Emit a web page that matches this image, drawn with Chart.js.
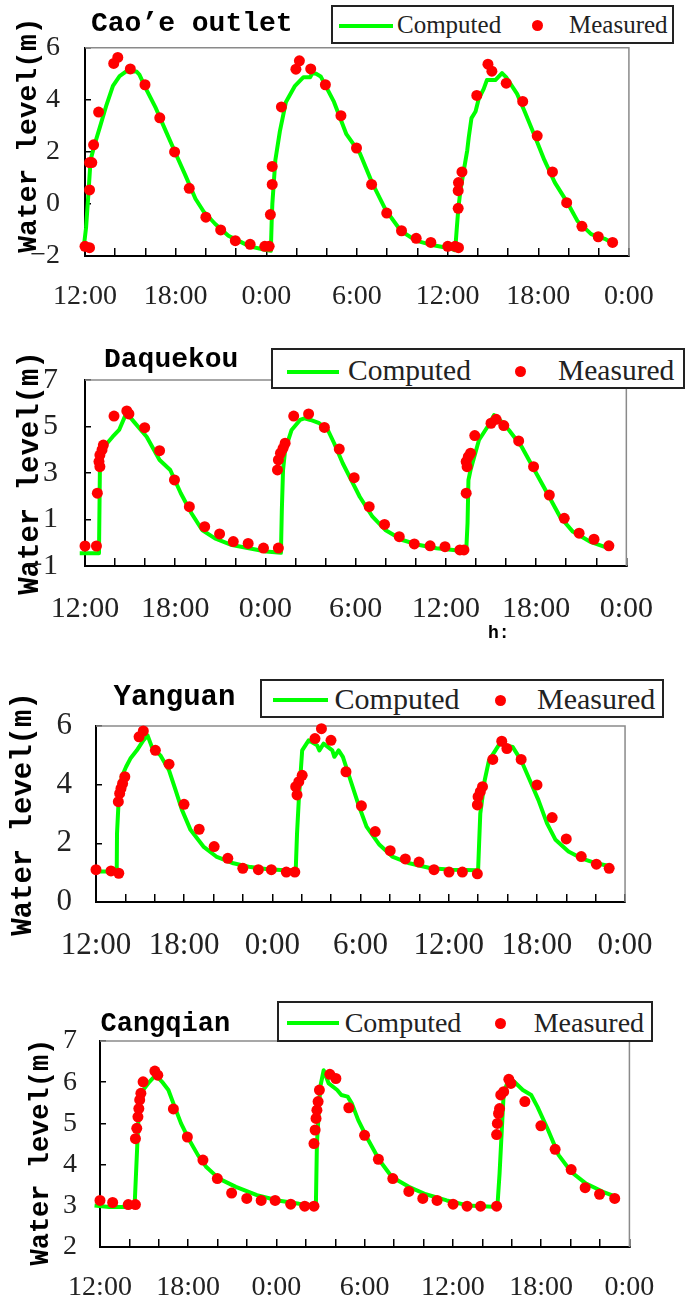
<!DOCTYPE html>
<html><head><meta charset="utf-8">
<script src="https://cdn.jsdelivr.net/npm/chart.js@4.4.1/dist/chart.umd.min.js"></script>
<style>
html,body{margin:0;padding:0;background:#fff;}
body{width:686px;height:1302px;position:relative;overflow:hidden;}
canvas{position:absolute;left:0;}
.t{position:absolute;white-space:nowrap;line-height:1;}
.ttl{font-family:"Liberation Mono",monospace;font-weight:bold;color:#000;}
.leg{position:absolute;border:2px solid #222;box-sizing:border-box;background:#fff;}
.sw{position:absolute;height:4px;background:#00ff00;}
.dot{position:absolute;border-radius:50%;background:#ff0000;}
.lt{font-family:"Liberation Serif",serif;color:#222;}
</style></head>
<body>
<canvas id="c1" width="686" height="325" style="top:0px;width:686px;height:325px"></canvas>
<canvas id="c2" width="686" height="330" style="top:325px;width:686px;height:330px"></canvas>
<canvas id="c3" width="686" height="330" style="top:655px;width:686px;height:330px"></canvas>
<canvas id="c4" width="686" height="317" style="top:985px;width:686px;height:317px"></canvas>

<!-- Panel 1 overlays -->
<div class="t ttl" style="left:91px;top:9.6px;font-size:28px">Cao’e outlet</div>
<div class="leg" style="left:331px;top:5px;width:343px;height:39px"></div>
<div class="sw" style="left:339px;top:23.5px;width:54px"></div>
<div class="t lt" style="left:397px;top:12.3px;font-size:25px">Computed</div>
<div class="dot" style="left:531.5px;top:19.5px;width:11px;height:11px"></div>
<div class="t lt" style="left:569px;top:12.3px;font-size:25px">Measured</div>

<!-- Panel 2 overlays -->
<div class="t ttl" style="left:104px;top:346.3px;font-size:28px">Daquekou</div>
<div class="leg" style="left:271px;top:348px;width:414px;height:41px"></div>
<div class="sw" style="left:286.5px;top:369.7px;width:52.5px"></div>
<div class="t lt" style="left:348px;top:355.5px;font-size:29.5px">Computed</div>
<div class="dot" style="left:515.1px;top:365.5px;width:11px;height:11px"></div>
<div class="t lt" style="left:558px;top:355.5px;font-size:29.5px">Measured</div>
<div class="t ttl" style="left:488px;top:624px;font-size:18px">h:</div>

<!-- Panel 3 overlays -->
<div class="t ttl" style="left:113.6px;top:682.8px;font-size:29px">Yanguan</div>
<div class="leg" style="left:260px;top:679px;width:404px;height:39px"></div>
<div class="sw" style="left:273.4px;top:698px;width:54.6px"></div>
<div class="t lt" style="left:334.6px;top:683.8px;font-size:30px">Computed</div>
<div class="dot" style="left:495.4px;top:694.5px;width:11px;height:11px"></div>
<div class="t lt" style="left:537px;top:683.8px;font-size:30px">Measured</div>

<!-- Panel 4 overlays -->
<div class="t ttl" style="left:100.5px;top:1011px;font-size:27px">Cangqian</div>
<div class="leg" style="left:277px;top:1001px;width:376px;height:41px"></div>
<div class="sw" style="left:286.5px;top:1021.3px;width:52.5px"></div>
<div class="t lt" style="left:344.7px;top:1008.8px;font-size:28px">Computed</div>
<div class="dot" style="left:495.4px;top:1017.8px;width:11px;height:11px"></div>
<div class="t lt" style="left:533.7px;top:1008.8px;font-size:28px">Measured</div>

<script>
// ---- Data (time in hours after 12:00 of day 1; water level in m) ----
const xTickLabels = ['12:00', '18:00', '0:00', '6:00', '12:00', '18:00', '0:00'];

// Cao'e outlet
const caoeMeasT = [0, 0.3, 0.3, 0.3, 0.45, 0.57, 0.9, 1.9, 2.17, 3.0, 3.97, 4.95, 5.93, 6.9, 8.0, 8.98, 9.95, 10.93, 11.9, 12.19, 12.27, 12.39, 12.39, 13.0, 13.96, 14.19, 14.94, 15.91, 16.94, 17.97, 18.97, 19.97, 20.95, 21.92, 22.89, 24.01, 24.5, 24.72, 24.7, 24.7, 24.72, 24.95, 25.93, 26.67, 26.93, 27.88, 28.97, 29.93, 30.94, 31.88, 32.89, 33.97, 34.92];
const caoeMeasH = [-1.63, -1.68, 0.54, 1.59, 1.59, 2.27, 3.53, 5.40, 5.63, 5.19, 4.58, 3.31, 2.0, 0.6, -0.51, -1.0, -1.41, -1.55, -1.63, -1.63, -0.41, 0.75, 1.44, 3.73, 5.18, 5.50, 5.19, 4.58, 3.39, 2.15, 0.75, -0.35, -1.03, -1.32, -1.48, -1.63, -1.63, -1.68, -0.17, 0.51, 0.82, 1.23, 4.17, 5.37, 5.10, 4.64, 3.94, 2.62, 1.23, 0.05, -0.86, -1.26, -1.48];
const caoeCompT = [-0.1, 0.07, 0.22, 0.37, 0.65, 0.98, 1.42, 1.85, 2.29, 2.73, 3.4, 3.6, 4.04, 4.69, 5.35, 6.0, 6.66, 7.31, 7.85, 8.62, 9.49, 10.14, 10.9, 11.9, 12.3, 12.36, 12.4, 12.6, 12.9, 13.3, 13.9, 14.46, 14.9, 15.05, 15.3, 15.6, 16.48, 17.3, 18.2, 19.0, 19.9, 20.9, 21.9, 23.06, 24.2, 24.5, 24.6, 24.71, 24.86, 25.08, 25.3, 25.4, 25.58, 25.85, 26.06, 26.39, 26.6, 27.16, 27.6, 27.9, 28.6, 29.1, 29.8, 30.4, 31.1, 31.96, 32.6, 33.5, 34.4, 35.0];
const caoeCompH = [-1.75, -0.91, 0.34, 1.69, 2.31, 2.94, 3.80, 4.54, 4.91, 5.09, 5.09, 4.97, 4.42, 3.68, 2.80, 1.94, 1.08, 0.20, -0.29, -0.77, -1.22, -1.41, -1.63, -1.76, -1.8, -0.6, 0.0, 1.69, 2.8, 3.92, 4.54, 4.87, 4.87, 5.03, 5.0, 4.9, 3.92, 2.68, 1.94, 0.82, -0.23, -1.03, -1.41, -1.59, -1.71, -1.78, -1.0, -0.17, 0.57, 1.32, 2.06, 2.56, 3.3, 3.55, 4.04, 4.42, 4.76, 4.76, 5.03, 4.85, 4.23, 3.55, 2.56, 1.69, 0.82, 0.02, -0.66, -1.16, -1.34, -1.53];

// Daquekou
const daqMeasT = [0, 0.76, 0.82, 0.99, 0.93, 0.99, 1.13, 1.22, 1.93, 2.78, 2.92, 3.97, 4.96, 5.95, 6.94, 7.96, 8.95, 9.86, 10.85, 11.87, 12.86, 12.8, 12.86, 13.0, 13.17, 13.31, 13.88, 14.87, 15.92, 16.91, 17.9, 18.9, 19.92, 20.9, 21.9, 22.95, 23.94, 24.93, 25.2, 25.35, 25.41, 25.35, 25.49, 25.64, 25.92, 27.0, 27.34, 27.85, 28.84, 29.83, 30.88, 31.87, 32.86, 33.85, 34.84];
const daqMeasH = [-0.14, -0.14, 2.13, 3.27, 3.49, 3.77, 3.99, 4.2, 5.45, 5.67, 5.54, 4.95, 3.96, 2.70, 1.55, 0.69, 0.38, 0.05, -0.03, -0.23, -0.23, 3.13, 3.56, 3.85, 4.06, 4.28, 5.45, 5.54, 4.96, 4.03, 2.80, 1.55, 0.79, 0.26, -0.05, -0.13, -0.17, -0.31, -0.31, 2.13, 3.27, 3.49, 3.70, 3.85, 4.61, 5.14, 5.31, 5.04, 4.38, 3.27, 2.05, 1.05, 0.41, 0.15, -0.13];
const daqCompT = [-0.35, 0.93, 0.99, 1.27, 1.84, 2.27, 2.69, 2.78, 3.26, 4.1, 4.96, 5.67, 6.37, 7.08, 7.79, 8.64, 9.77, 10.9, 12.04, 13.03, 13.09, 13.17, 13.31, 13.74, 14.3, 14.59, 15.0, 15.58, 16.15, 16.57, 17.14, 17.7, 18.27, 19.12, 19.97, 21.1, 22.24, 23.37, 24.5, 25.35, 25.44, 25.5, 25.64, 26.2, 26.77, 27.2, 27.6, 28.19, 29.04, 29.89, 30.74, 31.59, 32.44, 33.57, 34.84];
const daqCompH = [-0.45, -0.45, 3.13, 4.13, 4.56, 4.85, 5.49, 5.57, 5.2, 4.56, 3.56, 3.13, 2.13, 1.27, 0.55, 0.19, -0.1, -0.24, -0.38, -0.43, 1.41, 3.13, 3.99, 4.85, 5.28, 5.35, 5.28, 5.14, 4.85, 4.28, 3.42, 2.70, 1.98, 1.12, 0.55, 0.12, -0.10, -0.24, -0.31, -0.38, 0.84, 2.7, 3.13, 4.42, 4.99, 5.49, 5.28, 4.85, 4.13, 3.13, 2.13, 1.12, 0.48, 0.05, -0.24];

// Yanguan
const yanMeasT = [0, 1.02, 1.55, 1.52, 1.61, 1.7, 1.81, 1.96, 2.93, 3.22, 4.04, 4.97, 5.99, 7.02, 8.04, 8.97, 9.99, 11.05, 11.93, 12.95, 13.53, 13.68, 13.59, 13.8, 14.03, 14.9, 15.34, 15.99, 17.01, 18.06, 19.0, 20.02, 21.05, 21.98, 23.0, 24.02, 24.93, 25.95, 25.95, 26.0, 26.15, 26.3, 27.0, 27.61, 27.96, 28.93, 30.01, 31.04, 32.0, 33.02, 34.05, 34.92];
const yanMeasH = [1.10, 1.06, 0.98, 3.42, 3.70, 3.87, 4.04, 4.27, 5.63, 5.83, 5.17, 4.70, 3.33, 2.48, 1.89, 1.49, 1.15, 1.10, 1.10, 1.02, 1.02, 3.65, 3.93, 4.10, 4.32, 5.57, 5.91, 5.51, 4.44, 3.28, 2.40, 1.75, 1.47, 1.36, 1.10, 1.02, 1.02, 0.96, 3.31, 3.59, 3.76, 3.93, 4.86, 5.48, 5.23, 4.86, 3.99, 2.88, 2.15, 1.55, 1.29, 1.15];
const yanCompT = [0, 1.41, 1.43, 1.52, 1.75, 2.05, 2.34, 2.78, 3.22, 3.51, 3.8, 4.38, 4.97, 5.41, 5.85, 6.43, 7.31, 8.18, 9.35, 10.52, 11.69, 12.86, 13.59, 13.68, 13.8, 14.03, 14.47, 15.05, 15.2, 15.49, 16.08, 16.22, 16.51, 16.8, 17.24, 17.83, 18.41, 19.29, 20.16, 21.33, 22.79, 24.25, 26.0, 26.07, 26.15, 26.45, 26.74, 27.18, 27.47, 27.91, 28.35, 28.93, 29.52, 30.1, 30.69, 31.27, 32.15, 33.03, 34.05, 35.07];
const yanCompH = [1.04, 1.04, 2.34, 3.25, 4.27, 4.61, 4.89, 5.17, 5.51, 5.68, 5.29, 5.0, 4.49, 3.82, 3.14, 2.46, 1.89, 1.55, 1.32, 1.19, 1.12, 1.08, 1.08, 2.34, 3.48, 5.17, 5.51, 5.34, 5.17, 5.4, 5.17, 4.95, 5.17, 4.95, 4.27, 3.36, 2.57, 1.95, 1.55, 1.32, 1.15, 1.10, 1.08, 2.0, 3.02, 4.15, 4.83, 5.17, 5.4, 5.34, 5.29, 4.83, 4.15, 3.48, 2.68, 2.12, 1.72, 1.49, 1.32, 1.21];

// Cangqian
const cangMeasT = [0, 0.86, 1.92, 2.41, 2.41, 2.5, 2.58, 2.64, 2.7, 2.78, 2.93, 3.73, 3.93, 4.99, 5.94, 7.0, 7.98, 8.95, 9.98, 10.96, 11.91, 12.97, 13.92, 14.55, 14.55, 14.63, 14.69, 14.75, 14.83, 14.92, 15.63, 16.04, 16.92, 17.99, 18.93, 19.91, 21.0, 21.95, 22.92, 24.01, 24.96, 25.88, 26.97, 26.97, 27.02, 27.1, 27.17, 27.25, 27.45, 27.8, 27.94, 28.89, 29.98, 30.95, 32.04, 32.99, 33.97, 35.0];
const cangMeasH = [3.13, 3.08, 3.03, 3.03, 4.63, 4.88, 5.16, 5.36, 5.57, 5.73, 6.01, 6.27, 6.17, 5.35, 4.67, 4.11, 3.66, 3.31, 3.18, 3.13, 3.13, 3.04, 2.99, 2.99, 4.51, 4.84, 5.12, 5.32, 5.53, 5.81, 6.19, 6.09, 5.38, 4.71, 4.13, 3.66, 3.35, 3.18, 3.13, 3.04, 2.99, 2.99, 2.99, 4.73, 5.0, 5.24, 5.36, 5.69, 5.77, 6.07, 5.97, 5.53, 4.94, 4.37, 3.88, 3.44, 3.28, 3.18];
const cangCompT = [-0.37, 0.63, 2.35, 2.5, 2.64, 2.93, 3.36, 3.79, 4.22, 4.65, 5.08, 5.51, 6.08, 6.66, 7.23, 8.09, 9.24, 10.67, 12.1, 13.54, 14.68, 14.75, 14.98, 15.21, 15.55, 16.13, 16.41, 16.84, 17.13, 17.56, 18.13, 18.99, 19.85, 21.0, 22.15, 23.58, 25.01, 27.02, 27.17, 27.31, 27.45, 27.8, 28.17, 28.75, 29.32, 29.75, 30.47, 31.19, 32.05, 33.05, 34.2, 35.06];
const cangCompH = [3.01, 2.97, 2.97, 4.19, 5.32, 5.81, 6.01, 6.17, 6.01, 5.81, 5.4, 5.0, 4.59, 4.23, 3.94, 3.66, 3.46, 3.26, 3.13, 3.05, 3.01, 4.51, 5.89, 6.29, 5.97, 5.81, 5.69, 5.65, 5.48, 5.08, 4.67, 4.11, 3.70, 3.46, 3.28, 3.13, 3.01, 2.97, 3.78, 4.76, 5.73, 6.09, 6.01, 5.81, 5.69, 5.4, 4.84, 4.23, 3.82, 3.54, 3.34, 3.22];

// ---- Chart construction ----
Chart.defaults.font.family = 'Liberation Serif';

function zip(xs, ys) { return xs.map((x, i) => ({ x: x, y: ys[i] })); }
function fmtY(v) { return v < 0 ? '\u2212' + Math.abs(v) : String(v); }

const framePlugin = {
  id: 'frame',
  beforeDatasetsDraw(chart) {
    const ctx = chart.ctx, a = chart.chartArea;
    ctx.save();
    ctx.strokeStyle = '#8a8a8a';
    ctx.lineWidth = 1.5;
    ctx.beginPath();
    ctx.moveTo(a.left, a.top);
    ctx.lineTo(a.right, a.top);
    ctx.lineTo(a.right, a.bottom);
    ctx.stroke();
    ctx.restore();
  }
};

function makeChart(id, p) {
  new Chart(document.getElementById(id), {
    type: 'scatter',
    data: {
      datasets: [
        { label: 'Measured', data: zip(p.mT, p.mH), backgroundColor: '#ff0000', borderWidth: 0,
          pointRadius: 5.5, pointHoverRadius: 5.5, order: 0, clip: false },
        { label: 'Computed', data: zip(p.cT, p.cH), showLine: true, borderColor: '#00ff00',
          backgroundColor: '#00ff00', borderWidth: 4, pointRadius: 0, tension: 0, order: 1,
          borderJoinStyle: 'round', clip: { left: 10, right: 10, top: false, bottom: false } }
      ]
    },
    options: {
      responsive: false, animation: false, devicePixelRatio: 1, events: [],
      layout: { padding: { left: 0, top: p.T, right: 686 - p.R, bottom: p.H - p.B - p.xh } },
      plugins: { legend: { display: false }, tooltip: { enabled: false }, title: { display: false } },
      scales: {
        x: {
          type: 'linear', min: 0, max: 36,
          afterFit(s) { s.height = p.xh; },
          ticks: { stepSize: 2, autoSkip: false, maxRotation: 0, minRotation: 0, padding: p.xPad,
            color: '#222', font: { family: 'Liberation Serif', size: p.tf },
            callback: (v) => (v % 6 === 0 ? xTickLabels[v / 6] : '') },
          grid: { display: true, drawOnChartArea: false, drawTicks: true, tickLength: -8, color: '#000', lineWidth: 1.5 },
          border: { display: true, color: '#000', width: 2 }
        },
        y: {
          type: 'linear', min: p.ymin, max: p.ymax,
          afterFit(s) { s.width = p.L; },
          ticks: { stepSize: p.ystep, padding: p.yPad, color: '#222',
            font: { family: 'Liberation Serif', size: p.tf }, callback: fmtY },
          grid: { display: true, drawOnChartArea: false, drawTicks: true, tickLength: -6, color: '#000', lineWidth: 1.5 },
          border: { display: true, color: '#000', width: 2 },
          title: { display: true, text: p.ytitle, color: '#000',
            font: { family: 'Liberation Mono', weight: 'bold', size: p.ytf },
            padding: { top: p.ytp, bottom: 0 } }
        }
      }
    },
    plugins: [framePlugin]
  });
}

makeChart('c1', { mT: caoeMeasT, mH: caoeMeasH, cT: caoeCompT, cH: caoeCompH,
  H: 325, L: 85, R: 635, T: 41, B: 256, xh: 65, ymin: -2, ymax: 6, ystep: 2,
  tf: 28, xPad: 32.2, yPad: 31, ytitle: '  Water level(m)', ytf: 28, ytp: 12 });
makeChart('c2', { mT: daqMeasT, mH: daqMeasH, cT: daqCompT, cH: daqCompH,
  H: 330, L: 85, R: 641, T: 55, B: 241, xh: 65, ymin: -1, ymax: 7, ystep: 2,
  tf: 30, xPad: 33, yPad: 33, ytitle: 'Water level(m)', ytf: 29, ytp: 13.6 });
makeChart('c3', { mT: yanMeasT, mH: yanMeasH, cT: yanCompT, cH: yanCompH,
  H: 330, L: 96, R: 635, T: 71, B: 247, xh: 65, ymin: 0, ymax: 6, ystep: 2,
  tf: 31, xPad: 33.4, yPad: 30, ytitle: 'Water level(m)', ytf: 29, ytp: 6 });
makeChart('c4', { mT: cangMeasT, mH: cangMeasH, cT: cangCompT, cH: cangCompH,
  H: 317, L: 100, R: 649, T: 56, B: 262, xh: 55, ymin: 2, ymax: 7, ystep: 1,
  tf: 28, xPad: 31.7, yPad: 29, ytitle: 'Water level(m) ', ytf: 27, ytp: 24.8 });
</script>
</body></html>
